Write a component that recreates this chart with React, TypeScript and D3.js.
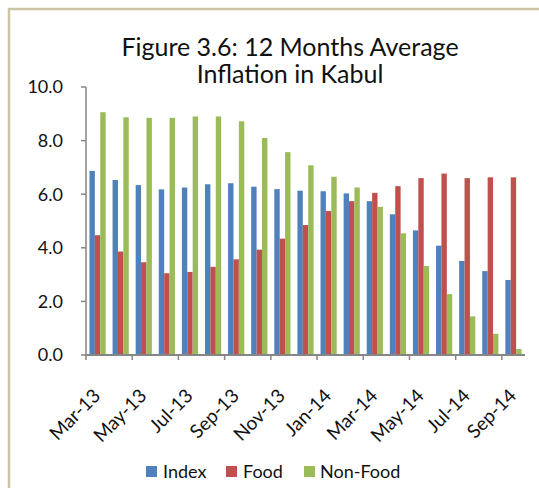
import React, { useEffect } from "react";
import { scaleBand, scaleLinear } from "d3";

const months = [
  "Mar-13", "Apr-13", "May-13", "Jun-13", "Jul-13", "Aug-13", "Sep-13", "Oct-13",
  "Nov-13", "Dec-13", "Jan-14", "Feb-14", "Mar-14", "Apr-14", "May-14", "Jun-14",
  "Jul-14", "Aug-14", "Sep-14",
];
const indexValues = [6.87, 6.53, 6.34, 6.18, 6.25, 6.37, 6.41, 6.28, 6.19, 6.13, 6.11, 6.03, 5.74, 5.25, 4.65, 4.08, 3.51, 3.13, 2.8];
const foodValues = [4.47, 3.86, 3.46, 3.05, 3.1, 3.29, 3.57, 3.93, 4.34, 4.85, 5.37, 5.74, 6.05, 6.3, 6.6, 6.77, 6.6, 6.63, 6.63];
const nonFoodValues = [9.06, 8.87, 8.85, 8.85, 8.9, 8.9, 8.72, 8.1, 7.57, 7.08, 6.65, 6.25, 5.53, 4.54, 3.32, 2.27, 1.44, 0.79, 0.22];
const seriesNames = ["Index", "Food", "Non-Food"];
const seriesColors = ["#4f81bd", "#c0504d", "#9bbb59"];
const yTicks = [0, 2, 4, 6, 8, 10];

const FONT = "Lato, 'Open Sans', sans-serif";

const App = () => {
  useEffect(() => {
    document.body.style.margin = "0";
  }, []);

  const series = [indexValues, foodValues, nonFoodValues];
  const left = 86;
  const right = 525;
  const top = 87;
  const bottom = 355;

  const x = scaleBand<string>()
    .domain(months)
    .range([left, right])
    .paddingInner(0.3)
    .paddingOuter(0.15);
  const inner = scaleBand<string>()
    .domain(seriesNames)
    .range([0, x.bandwidth()]);
  const y = scaleLinear().domain([0, 10]).range([bottom, top]);

  // tick marks sit on the category boundaries
  const boundary = (m: string) => (x(m) as number) - (x.step() * x.paddingInner()) / 2;
  const axisColor = "#868686";

  const legendItems = [
    { name: "Index", sx: 146, tx: 163 },
    { name: "Food", sx: 226, tx: 243 },
    { name: "Non-Food", sx: 304, tx: 320 },
  ];

  return (
    <svg width={539} height={488} style={{ display: "block", background: "#fff" }}>
      {/* outer frame */}
      <rect x={9} y={9} width={560} height={520} fill="none" stroke="#cbc5a3" strokeWidth={2.5} />

      <text x={290} y={56} textAnchor="middle" fontFamily={FONT} fontSize={25} fill="#111">
        Figure 3.6: 12 Months Average
      </text>
      <text x={290} y={83} textAnchor="middle" fontFamily={FONT} fontSize={25} fill="#111">
        Inflation in Kabul
      </text>

      {/* bars */}
      {months.map((m, i) => (
        <g key={m} transform={`translate(${x(m)},0)`}>
          {series.map((vals, s) => (
            <rect
              key={seriesNames[s]}
              x={inner(seriesNames[s])}
              y={y(vals[i])}
              width={inner.bandwidth()}
              height={y(0) - y(vals[i])}
              fill={seriesColors[s]}
            />
          ))}
        </g>
      ))}

      {/* y axis */}
      <line x1={left} x2={left} y1={top} y2={bottom} stroke={axisColor} strokeWidth={1.5} />
      {yTicks.map((t) => (
        <g key={t}>
          <line x1={left - 5} x2={left} y1={y(t)} y2={y(t)} stroke={axisColor} strokeWidth={1.5} />
          <text x={63} y={y(t)} dy="0.35em" textAnchor="end" fontFamily={FONT} fontSize={18} fill="#111">
            {t.toFixed(1)}
          </text>
        </g>
      ))}

      {/* x axis */}
      <line x1={left} x2={right} y1={bottom} y2={bottom} stroke={axisColor} strokeWidth={2} />
      {months.map((m, i) =>
        i % 2 === 0 ? (
          <g key={m}>
            <line x1={boundary(m)} x2={boundary(m)} y1={bottom} y2={bottom + 5} stroke={axisColor} strokeWidth={1.5} />
            <text
              transform={`translate(${(x(m) as number) + x.bandwidth() / 2 + 4},${bottom + 42}) rotate(-45)`}
              textAnchor="end"
              fontFamily={FONT}
              fontSize={19}
              fill="#111"
            >
              {m}
            </text>
          </g>
        ) : null
      )}

      {/* legend */}
      {legendItems.map((d, i) => (
        <g key={d.name}>
          <rect x={d.sx} y={466} width={11} height={11} fill={seriesColors[i]} />
          <text x={d.tx} y={478} fontFamily={FONT} fontSize={18} fill="#111">
            {d.name}
          </text>
        </g>
      ))}
    </svg>
  );
};

export default App;
